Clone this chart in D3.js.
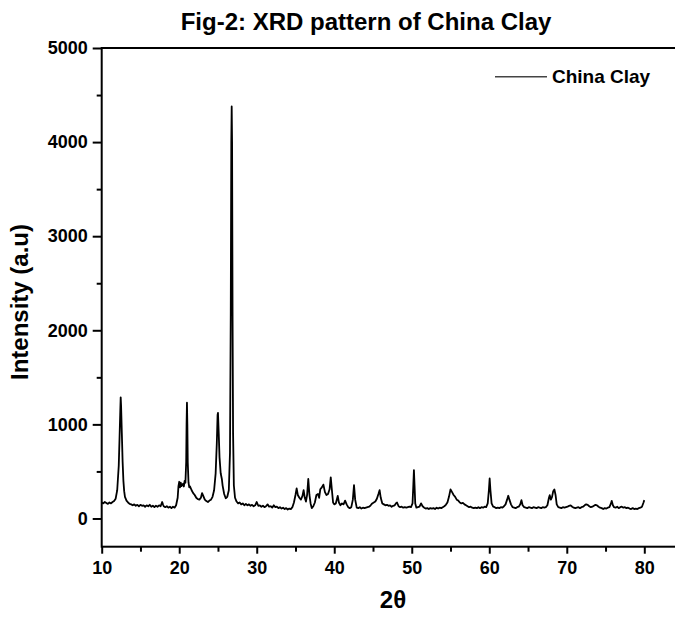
<!DOCTYPE html>
<html><head><meta charset="utf-8">
<script src="https://cdn.jsdelivr.net/npm/d3@7"></script>
<style>body{margin:0;background:#fff}svg{display:block}text{font-family:"Liberation Sans",Arial,sans-serif;font-weight:bold;fill:#000}</style>
</head><body>
<script>
const chartTitle = "Fig-2: XRD pattern of China Clay";
const seriesName = "China Clay";
const xTicks = [10,20,30,40,50,60,70,80];
const yTicks = [0,1000,2000,3000,4000,5000];
const twoTheta = [10.0,10.2,10.4,10.6,10.8,11.0,11.2,11.4,11.6,11.8,12.0,12.2,12.3,12.4,12.45,12.5,12.6,12.7,12.8,12.9,13.0,13.2,13.4,13.6,13.8,14.0,14.2,14.4,14.6,14.8,15.0,15.2,15.4,15.6,15.8,16.0,16.2,16.4,16.6,16.8,17.0,17.2,17.4,17.6,17.8,17.9,18.0,18.2,18.4,18.6,18.8,19.0,19.2,19.4,19.6,19.8,19.9,20.0,20.1,20.2,20.3,20.5,20.6,20.7,20.8,20.9,20.95,21.0,21.05,21.1,21.2,21.3,21.4,21.6,21.8,22.0,22.2,22.4,22.6,22.8,22.95,23.1,23.3,23.5,23.7,23.9,24.1,24.3,24.5,24.7,24.85,24.95,25.0,25.1,25.2,25.35,25.5,25.6,25.8,26.0,26.2,26.4,26.55,26.65,26.72,26.77,26.82,26.88,26.95,27.05,27.2,27.4,27.6,27.8,28.0,28.2,28.4,28.6,28.8,29.0,29.2,29.4,29.6,29.8,30.0,30.2,30.4,30.6,30.8,31.0,31.2,31.4,31.6,31.8,32.0,32.2,32.4,32.6,32.8,33.0,33.2,33.4,33.6,33.8,34.0,34.2,34.4,34.6,34.8,35.0,35.15,35.3,35.5,35.7,35.9,36.05,36.2,36.35,36.5,36.65,36.8,36.95,37.1,37.3,37.5,37.7,37.9,38.05,38.2,38.4,38.6,38.8,39.0,39.2,39.4,39.55,39.7,39.85,40.0,40.2,40.45,40.6,40.8,41.0,41.2,41.4,41.6,41.8,42.0,42.2,42.4,42.55,42.7,42.9,43.1,43.3,43.5,43.7,43.9,44.1,44.3,44.5,44.7,44.9,45.1,45.3,45.5,45.7,45.85,46.0,46.2,46.4,46.6,46.8,47.0,47.2,47.4,47.6,47.8,48.0,48.1,48.3,48.5,48.7,48.9,49.1,49.3,49.5,49.7,49.9,50.1,50.2,50.28,50.36,50.45,50.6,50.8,51.0,51.2,51.4,51.6,51.8,52.0,52.2,52.4,52.6,52.8,53.0,53.2,53.4,53.6,53.8,54.0,54.2,54.4,54.6,54.8,55.0,55.2,55.4,55.6,55.8,56.0,56.2,56.4,56.6,56.8,57.0,57.2,57.4,57.6,57.8,58.0,58.2,58.4,58.6,58.8,59.0,59.2,59.4,59.6,59.8,59.95,60.05,60.15,60.3,60.5,60.7,60.9,61.1,61.3,61.5,61.7,61.9,62.1,62.3,62.45,62.6,62.8,63.0,63.2,63.4,63.6,63.8,64.0,64.15,64.3,64.5,64.7,64.9,65.1,65.3,65.5,65.7,65.9,66.1,66.3,66.5,66.7,66.9,67.1,67.3,67.5,67.7,67.8,67.95,68.1,68.25,68.4,68.55,68.7,68.9,69.1,69.3,69.5,69.7,69.9,70.1,70.3,70.5,70.7,70.9,71.1,71.3,71.5,71.7,71.9,72.1,72.3,72.5,72.7,72.9,73.1,73.3,73.5,73.7,73.9,74.1,74.3,74.5,74.7,74.9,75.1,75.3,75.5,75.7,75.8,75.95,76.1,76.3,76.5,76.7,76.9,77.1,77.3,77.5,77.7,77.9,78.1,78.3,78.5,78.7,78.9,79.1,79.3,79.5,79.7,79.9,80.0];
const intensity = [170,160,175,165,155,170,160,175,185,210,300,560,850,1150,1287,1200,900,600,400,290,230,190,170,155,150,140,150,135,145,130,145,135,140,125,140,130,145,125,135,120,135,125,140,130,175,150,130,120,130,115,125,110,125,115,140,220,340,390,330,380,345,370,340,400,380,600,1000,1230,1000,600,380,330,340,300,270,250,220,205,200,220,270,240,200,185,175,190,200,230,300,480,800,1100,1123,900,650,480,420,350,260,215,230,300,700,2200,4000,4379,4000,2200,900,350,220,180,160,170,150,160,140,155,140,150,135,145,130,140,175,135,140,125,135,120,130,150,125,130,115,140,120,125,110,120,105,115,100,110,95,105,100,120,170,250,320,250,220,200,240,300,220,180,250,420,250,160,110,130,170,250,260,220,310,330,360,280,250,260,310,436,300,170,150,160,240,170,140,160,150,190,150,120,110,120,200,354,200,115,110,120,105,115,110,115,120,125,140,160,170,180,210,260,301,220,160,150,140,145,135,140,125,135,140,165,170,130,120,125,115,120,115,120,125,120,160,350,514,350,160,115,120,125,160,130,115,105,110,100,110,105,110,100,115,105,115,110,120,130,145,170,230,309,280,250,230,200,190,170,160,165,150,140,130,120,125,115,110,115,110,120,110,120,115,125,120,160,300,425,300,160,125,120,110,115,110,120,115,130,150,200,241,200,150,120,115,110,120,125,150,195,140,120,115,110,120,115,110,120,115,110,120,115,110,120,115,120,140,220,248,200,230,290,309,250,150,120,115,110,120,115,120,125,135,140,125,115,110,115,120,110,120,125,140,150,145,130,120,125,135,145,140,125,115,110,100,110,105,115,120,160,187,140,120,115,125,110,120,125,115,120,110,115,105,100,110,100,105,100,110,115,125,170,195];

const W = 675, H = 619;
const FONT = '"Liberation Sans",Arial,sans-serif';
const svg = d3.select("body").append("svg").attr("width", W).attr("height", H);
const x = d3.scaleLinear().domain([10, 80]).range([101.7, 644.3]);
const y = d3.scaleLinear().domain([-300, 5000]).range([546.7, 48]);

// frame (right edge lies beyond the window, as in the reference)
const xRight = x(85);
svg.append("rect").attr("x", x(10)).attr("y", y(5000)).attr("width", xRight - x(10)).attr("height", y(-300) - y(5000))
  .attr("fill", "none").attr("stroke", "#000").attr("stroke-width", 2);

// data line
const data = twoTheta.map((t, i) => [t, intensity[i]]);
svg.append("path").datum(data).attr("fill", "none").attr("stroke", "#000").attr("stroke-width", 1.8)
  .attr("stroke-linejoin", "round")
  .attr("d", d3.line().x(d => x(d[0])).y(d => y(d[1])));

// y axis
const yMinor = d3.range(500, 5000, 1000);
const ya = svg.append("g").attr("transform", `translate(${x(10)},0)`)
  .call(d3.axisLeft(y).tickValues(yTicks).tickSize(9).tickPadding(5).tickFormat(d3.format("d")));
ya.select(".domain").remove();
ya.selectAll("line").attr("stroke-width", 2);
ya.selectAll("text").style("font-size", "18px").style("font-family", FONT).style("font-weight", "bold");
const ym = svg.append("g").attr("transform", `translate(${x(10)},0)`)
  .call(d3.axisLeft(y).tickValues(yMinor).tickSize(5).tickFormat(""));
ym.select(".domain").remove();
ym.selectAll("line").attr("stroke-width", 2);

// x axis
const xMinor = d3.range(15, 85, 10);
const xa = svg.append("g").attr("transform", `translate(0,${y(-300)})`)
  .call(d3.axisBottom(x).tickValues(xTicks).tickSize(7).tickPadding(8).tickFormat(d3.format("d")));
xa.select(".domain").remove();
xa.selectAll("line").attr("stroke-width", 2);
xa.selectAll("text").style("font-size", "18px").style("font-family", FONT).style("font-weight", "bold");
const xm = svg.append("g").attr("transform", `translate(0,${y(-300)})`)
  .call(d3.axisBottom(x).tickValues(xMinor).tickSize(5).tickFormat(""));
xm.select(".domain").remove();
xm.selectAll("line").attr("stroke-width", 2);

// titles
svg.append("text").attr("x", 366).attr("y", 30).attr("text-anchor", "middle").style("font-size", "24px").text(chartTitle);
svg.append("text").attr("x", 393).attr("y", 608).attr("text-anchor", "middle").style("font-size", "24px").text("2θ");
svg.append("text").attr("transform", "translate(28,302) rotate(-90)").attr("text-anchor", "middle").style("font-size", "24px").text("Intensity (a.u)");

// legend
svg.append("line").attr("x1", 495).attr("x2", 547).attr("y1", 76.7).attr("y2", 76.7).attr("stroke", "#444").attr("stroke-width", 1.5);
svg.append("text").attr("x", 552).attr("y", 83).style("font-size", "19px").text(seriesName);
</script>
</body></html>
